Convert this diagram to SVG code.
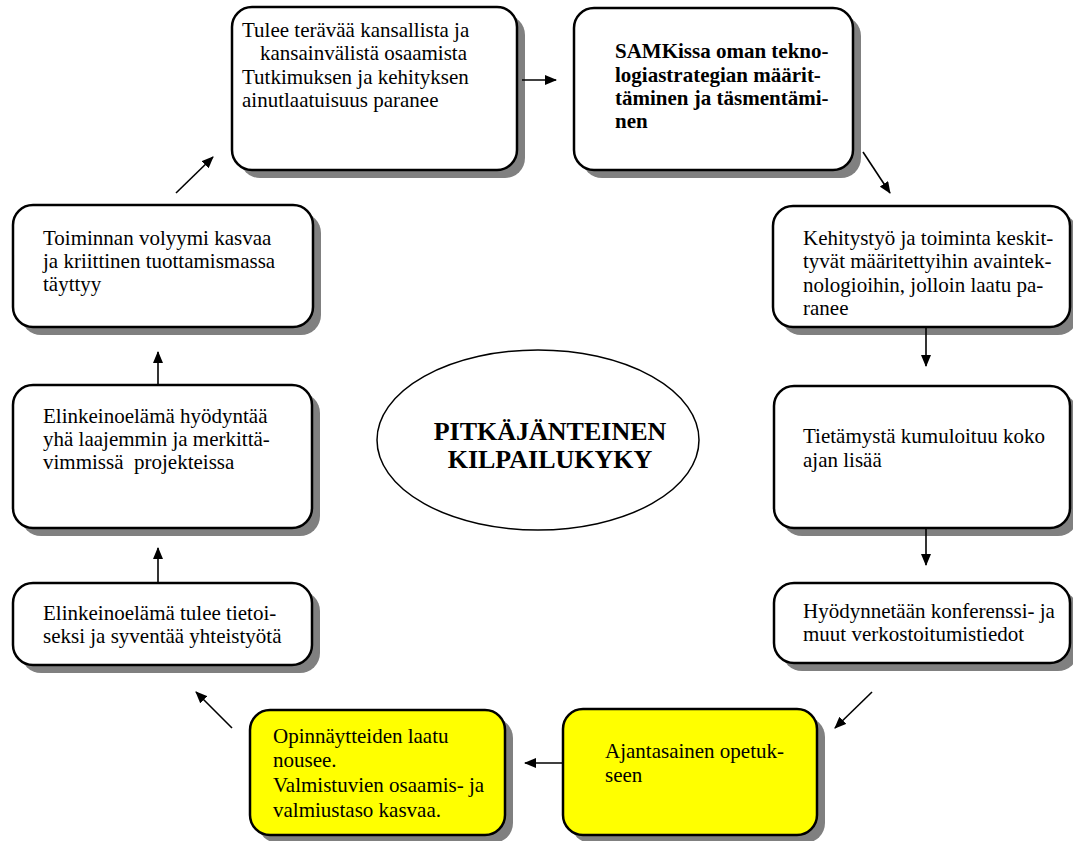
<svg xmlns="http://www.w3.org/2000/svg" width="1073" height="841" viewBox="0 0 1073 841">
<style>
.sh{fill:#808080;}
.bx{fill:#ffffff;stroke:#000;stroke-width:2.5;}
.yb{fill:#ffff00;stroke:#000;stroke-width:2.5;}
.c{stroke:#000;stroke-width:1.6;fill:none;marker-end:url(#ah);}
</style>
<defs>
<marker id="ah" markerUnits="userSpaceOnUse" markerWidth="12" markerHeight="10" refX="11" refY="5" orient="auto">
<path d="M0,0 L12,5 L0,10 z" fill="#000"/>
</marker>
</defs>
<rect width="1073" height="841" fill="#fff"/>

<g font-family="'Liberation Serif', 'Times New Roman', serif" font-size="21" fill="#000">

<g id="node1">
<rect class="sh" x="240" y="15" width="285" height="163" rx="20"/>
<rect class="bx" x="232" y="7" width="285" height="163" rx="20"/>
<text x="242" y="37">Tulee terävää kansallista ja</text>
<text x="260" y="60">kansainvälistä osaamista</text>
<text x="242" y="84">Tutkimuksen ja kehityksen</text>
<text x="242" y="107">ainutlaatuisuus paranee</text>
</g>

<g id="node2">
<rect class="sh" x="582" y="16" width="279" height="162" rx="20"/>
<rect class="bx" x="574" y="8" width="279" height="162" rx="20"/>
<text font-weight="bold" x="615" y="58">SAMKissa oman tekno-</text>
<text font-weight="bold" x="615" y="82">logiastrategian määrit-</text>
<text font-weight="bold" x="615" y="105">täminen ja täsmentämi-</text>
<text font-weight="bold" x="615" y="128">nen</text>
</g>

<g id="node3">
<rect class="sh" x="781" y="214" width="297" height="121" rx="20"/>
<rect class="bx" x="773" y="206" width="297" height="121" rx="20"/>
<text x="803" y="245">Kehitystyö ja toiminta keskit-</text>
<text x="803" y="268">tyvät määritettyihin avaintek-</text>
<text x="803" y="292">nologioihin, jolloin laatu pa-</text>
<text x="803" y="315">ranee</text>
</g>

<g id="node4">
<rect class="sh" x="782" y="394" width="296" height="142" rx="20"/>
<rect class="bx" x="774" y="386" width="296" height="142" rx="20"/>
<text x="803" y="443">Tietämystä kumuloituu koko</text>
<text x="803" y="467">ajan lisää</text>
</g>

<g id="node5">
<rect class="sh" x="782" y="591" width="296" height="80" rx="20"/>
<rect class="bx" x="774" y="583" width="296" height="80" rx="20"/>
<text x="803" y="618">Hyödynnetään konferenssi- ja</text>
<text x="803" y="641">muut verkostoitumistiedot</text>
</g>

<g id="node6">
<rect class="sh" x="571" y="717" width="254" height="126" rx="20"/>
<rect class="yb" x="563" y="709" width="254" height="126" rx="20"/>
<text x="605" y="758">Ajantasainen opetuk-</text>
<text x="605" y="782">seen</text>
</g>

<g id="node7">
<rect class="sh" x="258" y="718" width="255" height="125" rx="20"/>
<rect class="yb" x="250" y="710" width="255" height="125" rx="20"/>
<text x="273" y="743">Opinnäytteiden laatu</text>
<text x="273" y="767">nousee.</text>
<text x="273" y="792">Valmistuvien osaamis- ja</text>
<text x="273" y="817">valmiustaso kasvaa.</text>
</g>

<g id="node8">
<rect class="sh" x="21" y="591" width="299" height="82" rx="20"/>
<rect class="bx" x="13" y="583" width="299" height="82" rx="20"/>
<text x="43" y="620">Elinkeinoelämä tulee tietoi-</text>
<text x="43" y="643">seksi ja syventää yhteistyötä</text>
</g>

<g id="node9">
<rect class="sh" x="21" y="393" width="299" height="143" rx="20"/>
<rect class="bx" x="13" y="385" width="299" height="143" rx="20"/>
<text x="43" y="423">Elinkeinoelämä hyödyntää</text>
<text x="43" y="446">yhä laajemmin ja merkittä-</text>
<text x="43" y="469" xml:space="preserve">vimmissä  projekteissa</text>
</g>

<g id="node10">
<rect class="sh" x="21" y="213" width="300" height="122" rx="20"/>
<rect class="bx" x="13" y="205" width="300" height="122" rx="20"/>
<text x="43" y="245">Toiminnan volyymi kasvaa</text>
<text x="43" y="268">ja kriittinen tuottamismassa</text>
<text x="43" y="291">täyttyy</text>
</g>

<g id="center">
<ellipse cx="538" cy="440" rx="161" ry="90" fill="#fff" stroke="#000" stroke-width="1.5"/>
<text x="550" y="440" font-size="26" font-weight="bold" text-anchor="middle">PITKÄJÄNTEINEN</text>
<text x="550" y="468" font-size="26" font-weight="bold" text-anchor="middle">KILPAILUKYKY</text>
</g>

</g>

<g id="connectors">
<line class="c" x1="522" y1="80" x2="556" y2="80"/>
<line class="c" x1="863" y1="152" x2="890" y2="193"/>
<line class="c" x1="926" y1="328" x2="926" y2="366"/>
<line class="c" x1="926" y1="529" x2="926" y2="565"/>
<line class="c" x1="872" y1="692" x2="835" y2="728"/>
<line class="c" x1="563" y1="763" x2="525" y2="763"/>
<line class="c" x1="232" y1="728" x2="196" y2="692"/>
<line class="c" x1="158" y1="583" x2="158" y2="548"/>
<line class="c" x1="158" y1="385" x2="158" y2="352"/>
<line class="c" x1="176" y1="193" x2="213" y2="157"/>
</g>
</svg>
